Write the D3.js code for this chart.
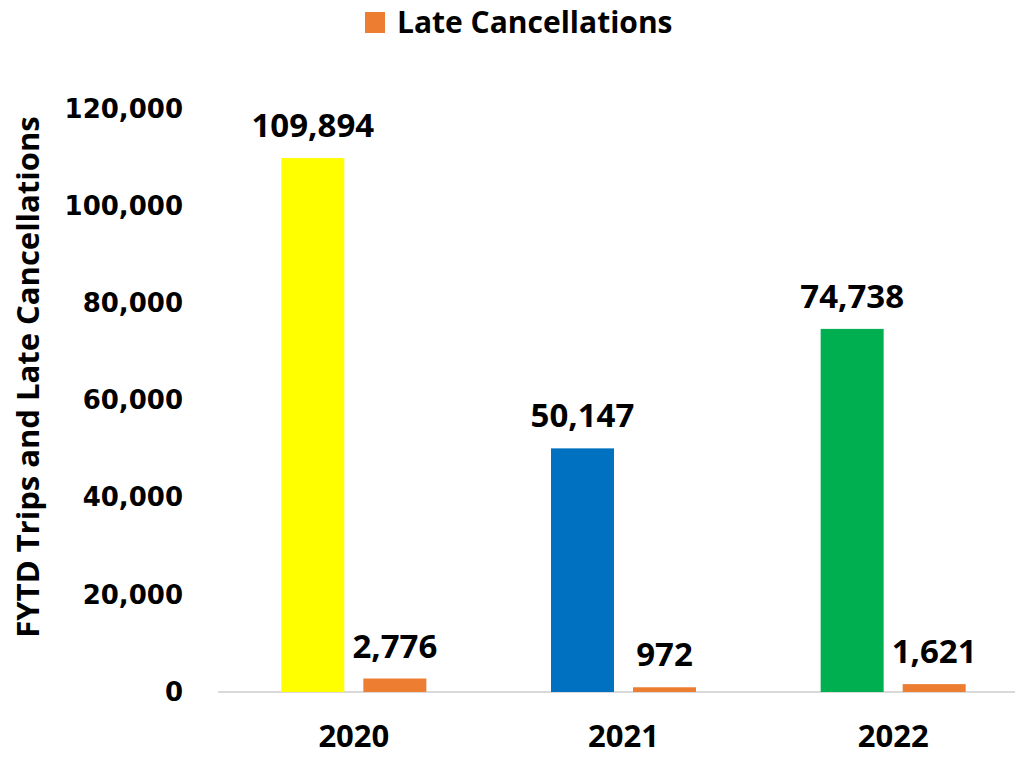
<!DOCTYPE html>
<html>
<head>
<meta charset="utf-8">
<script src="https://cdn.jsdelivr.net/npm/d3@7"></script>
<style>
  body { margin: 0; background: #fff; }
  svg { display: block; }
</style>
</head>
<body>
<div id="chart"></div>
<script>
// chart data
var years = ["2020", "2021", "2022"];
var trips = [109894, 50147, 74738];
var lateCancellations = [2776, 972, 1621];
var tripColors = ["#FFFF00", "#0070C0", "#00B050"];
var lateColor = "#ED7D31";
var yTicks = [0, 20000, 40000, 60000, 80000, 100000, 120000];
var legendLabel = "Late Cancellations";
var yTitle = "FYTD Trips and Late Cancellations";

var width = 1015, height = 757;
var svg = d3.select("#chart").append("svg")
    .attr("width", width)
    .attr("height", height);

var x = d3.scaleBand().domain(years).range([219, 1028]);
var sub = d3.scaleBand().domain(["trips", "late"])
    .range([0, x.bandwidth()])
    .paddingInner(0.232)
    .paddingOuter(0.76);
var y = d3.scaleLinear().domain([0, 120000]).range([692, 109]);
var fmt = d3.format(",");

// y axis labels
var yAxis = svg.append("g")
    .attr("transform", "translate(183,0)")
    .call(d3.axisLeft(y).tickValues(yTicks).tickFormat(fmt).tickSize(0).tickPadding(0));
yAxis.select(".domain").remove();
yAxis.selectAll("text")
    .attr("font-family", "DejaVu Sans")
    .attr("font-weight", "bold")
    .attr("font-size", 26)
    .attr("fill", "#000");

// baseline
svg.append("line")
    .attr("x1", 218).attr("x2", width)
    .attr("y1", y(0)).attr("y2", y(0))
    .attr("stroke", "#d9d9d9")
    .attr("stroke-width", 2);

var rows = years.map(function (yr, i) {
    return {year: yr, trips: trips[i], late: lateCancellations[i], color: tripColors[i]};
});

var g = svg.append("g").selectAll("g")
    .data(rows).enter().append("g")
    .attr("transform", function (d) { return "translate(" + x(d.year) + ",0)"; });

g.append("rect")
    .attr("x", sub("trips"))
    .attr("width", sub.bandwidth())
    .attr("y", function (d) { return y(d.trips); })
    .attr("height", function (d) { return y(0) - y(d.trips); })
    .attr("fill", function (d) { return d.color; });

g.append("rect")
    .attr("x", sub("late"))
    .attr("width", sub.bandwidth())
    .attr("y", function (d) { return y(d.late); })
    .attr("height", function (d) { return y(0) - y(d.late); })
    .attr("fill", lateColor);

var labelFont = "'Open Sans', sans-serif";
g.append("text")
    .attr("x", sub("trips") + sub.bandwidth() / 2)
    .attr("y", function (d) { return y(d.trips) - 21; })
    .attr("text-anchor", "middle")
    .attr("font-family", labelFont).attr("font-weight", "bold").attr("font-size", 33)
    .text(function (d) { return fmt(d.trips); });

g.append("text")
    .attr("x", sub("late") + sub.bandwidth() / 2)
    .attr("y", function (d) { return y(d.late) - 21; })
    .attr("text-anchor", "middle")
    .attr("font-family", labelFont).attr("font-weight", "bold").attr("font-size", 33)
    .text(function (d) { return fmt(d.late); });

// category labels
g.append("text")
    .attr("x", x.bandwidth() / 2)
    .attr("y", 747)
    .attr("text-anchor", "middle")
    .attr("font-family", labelFont).attr("font-weight", "bold").attr("font-size", 31)
    .text(function (d) { return d.year; });

// legend
svg.append("rect")
    .attr("x", 365).attr("y", 12)
    .attr("width", 20).attr("height", 21)
    .attr("fill", lateColor);
svg.append("text")
    .attr("x", 397).attr("y", 33)
    .attr("font-family", labelFont).attr("font-weight", "bold").attr("font-size", 30)
    .text(legendLabel);

// y title
svg.append("text")
    .attr("transform", "translate(39,377) rotate(-90)")
    .attr("text-anchor", "middle")
    .attr("font-family", labelFont).attr("font-weight", "bold").attr("font-size", 31)
    .text(yTitle);
</script>
</body>
</html>
